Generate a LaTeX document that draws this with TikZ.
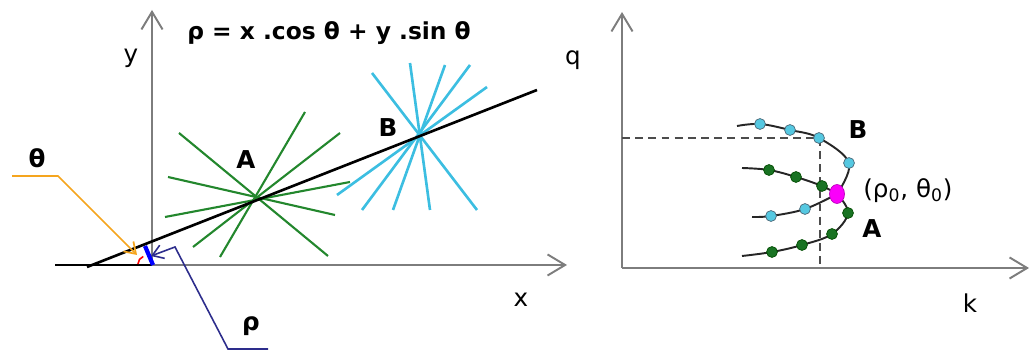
\documentclass[tikz,border=0pt]{standalone}
\usepackage{fontspec}
\setmainfont{DejaVu Sans}
\usetikzlibrary{arrows.meta,positioning,calc}
\definecolor{raygreen}{RGB}{35,135,45}
\definecolor{raycyan}{RGB}{60,190,225}
\definecolor{dotgreen}{RGB}{25,115,35}
\definecolor{dotcyan}{RGB}{85,200,225}
\definecolor{thorange}{RGB}{245,165,30}
\definecolor{rhonavy}{RGB}{45,45,140}
\definecolor{axgray}{RGB}{125,125,125}
\definecolor{peak}{RGB}{250,0,250}

\begin{document}
\begin{tikzpicture}[
    x=0.02cm, y=-0.02cm,
    axis/.style={draw=axgray, line width=1.1pt, -{Straight Barb[length=10pt,width=12pt,line width=1.1pt]}},
    greenray/.style={draw=raygreen, line width=1.2pt},
    cyanray/.style={draw=raycyan, line width=1.5pt},
    curve/.style={draw=black!85, line width=1.1pt},
    dotA/.style={circle, draw=black!70!green, fill=dotgreen, inner sep=0pt, minimum size=6.2pt},
    dotB/.style={circle, draw=black!60!cyan, fill=dotcyan, inner sep=0pt, minimum size=6.2pt},
    lbl/.style={font=\fontsize{14}{16}\selectfont, inner sep=0pt},
    bold/.style={font=\fontsize{14}{16}\selectfont\bfseries, inner sep=0pt}
]
    \useasboundingbox (0,0) rectangle (1031,350);

    % Image space
    \coordinate (o1) at (152,265);
    \draw[axis] (o1) -- (152,10);
    \draw[axis] (o1) -- (567,265);
    \draw[black, line width=0.6pt] (55,265) -- (o1);
    \node[lbl] (ylab) at (131,58) {y};
    \node[lbl] (xlab) at (521,300) {x};
    \node[font=\fontsize{13.3}{15}\selectfont\bfseries, inner sep=0pt] (eq) at (329,33)
        {ρ = x .cos θ + y .sin θ};

    \coordinate (ptA) at (257,198);
    \coordinate (ptB) at (420,137);
    \foreach \ax/\ay/\bx/\by in {-78/-65/71/58, -89/-21/78/17, -92/19/93/-16, -64/49/83/-65, -37/59/48/-86}
        \draw[greenray] ($(ptA)+(\ax,\ay)$) -- ($(ptA)+(\bx,\by)$);
    \foreach \ax/\ay/\bx/\by in {-48/-64/57/73, -10/-74/10/73, 25/-72/-27/73, 50/-72/-58/73, 67/-50/-83/58}
        \draw[cyanray] ($(ptB)+(\ax,\ay)$) -- ($(ptB)+(\bx,\by)$);

    % the line through A and B
    \coordinate (lstart) at (87,267);
    \coordinate (lend) at (537,90);
    \draw[black, line width=1.5pt] (lstart) -- (lend);
    \node[bold] (labA) at (246,160) {A};
    \node[bold] (labB) at (388,128) {B};

    % theta and rho
    \draw[red, line width=0.9pt] (138,264) arc[start angle=180, end angle=250, radius=8];
    \coordinate (rfoot) at (145,246);
    \coordinate (rhead) at (153,265);
    \draw[blue, line width=2.4pt] (rfoot) -- (rhead);

    \node[bold] (th) at (37,158) {θ};
    \coordinate (thtip) at (137,255);
    \draw[thorange, line width=1pt, -{Straight Barb[length=6pt,width=8pt]}]
        (12,176) -- (58,176) -- (thtip);

    \node[bold] (rho) at (251,326) {ρ};
    \coordinate (rhotip) at (151,256);
    \draw[rhonavy, line width=0.9pt, -{Straight Barb[length=6pt,width=8pt]}]
        (268,349) -- (228,349) -- (175,247) -- (rhotip);

    % Parameter space
    \coordinate (o2) at (622,268);
    \draw[axis] (o2) -- (622,12);
    \draw[axis] (o2) -- (1029,268);
    \node[lbl] (qlab) at (573,60) {q};
    \node[lbl] (klab) at (970,303) {k};
    \draw[black!70, line width=0.9pt, dash pattern=on 4.5pt off 3pt] (622,138) -- (820,138) -- (820,268);

    \coordinate (m) at (837,194);
    \foreach \n/\p in {b1/{760,124}, b2/{790,130}, b3/{819,138}, b4/{849,163}, b5/{805,209}, b6/{771,216}}
        \coordinate (\n) at (\p);
    \foreach \n/\p in {a1/{769,170}, a2/{796,177}, a3/{822,186}, a4/{848,213}, a5/{832,234}, a6/{802,245}, a7/{772,252}}
        \coordinate (\n) at (\p);

    \draw[curve] plot[smooth, tension=0.6] coordinates {(737,126) (b1) (b2) (b3) (b4) (m)};
    \draw[curve] plot[smooth, tension=0.6] coordinates {(m) (b5) (b6) (752,217)};
    \draw[curve] plot[smooth, tension=0.6] coordinates {(742,168) (a1) (a2) (a3) (m)};
    \draw[curve] plot[smooth, tension=0.6] coordinates {(m) (a4) (a5) (a6) (a7) (742,256)};

    \foreach \n in {b1,b2,b3,b4,b5,b6}
        \node[dotB] at (\n) {};
    \foreach \n in {a1,a2,a3,a4,a5,a6,a7}
        \node[dotA] at (\n) {};
    \fill[peak, draw=peak!75!black, line width=0.4pt] (m) ellipse (7.5 and 9.5);

    \node[bold] (rB) at (858,130) {B};
    \node[bold] (rA) at (872,229) {A};
    \node[lbl, anchor=west] (rm) at (863,191) {(ρ\textsubscript{0}, θ\textsubscript{0})};
\end{tikzpicture}
\end{document}
